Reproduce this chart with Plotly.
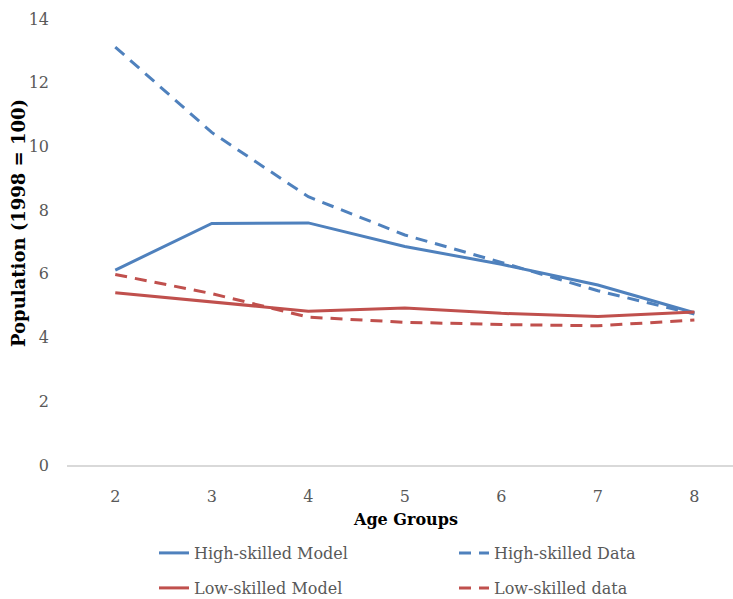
import plotly.graph_objects as go

age_groups = ["2", "3", "4", "5", "6", "7", "8"]
high_model = [6.12, 7.58, 7.60, 6.86, 6.30, 5.65, 4.78]
high_data = [13.12, 10.44, 8.42, 7.22, 6.36, 5.47, 4.74]
low_model = [5.41, 5.12, 4.83, 4.93, 4.76, 4.66, 4.80]
low_data = [5.98, 5.38, 4.64, 4.48, 4.41, 4.37, 4.55]
y_ticks = [0, 2, 4, 6, 8, 10, 12, 14]

BLUE = "#4F81BD"
RED = "#C0504D"
FONT = "DejaVu Serif"
GREY = "#595959"
DASH = "12px,8px"

fig = go.Figure()
fig.add_trace(go.Scatter(x=age_groups, y=high_model, mode="lines", name="High-skilled Model",
                         line=dict(color=BLUE, width=3), legend="legend", showlegend=True))
fig.add_trace(go.Scatter(x=age_groups, y=high_data, mode="lines", name="High-skilled Data",
                         line=dict(color=BLUE, width=3, dash=DASH), legend="legend2", showlegend=True))
fig.add_trace(go.Scatter(x=age_groups, y=low_model, mode="lines", name="Low-skilled Model",
                         line=dict(color=RED, width=3), legend="legend3", showlegend=True))
fig.add_trace(go.Scatter(x=age_groups, y=low_data, mode="lines", name="Low-skilled data",
                         line=dict(color=RED, width=3, dash=DASH), legend="legend4", showlegend=True))

W, H = 733, 599
L, R, T, B = 67, 0, 19, 134
pw, ph = W - L - R, H - T - B

def px_x(p):
    return (p - L) / pw

def px_y(p):
    return (H - B - p) / ph

legend_common = dict(orientation="h",
                     font=dict(family=FONT, size=16, color=GREY),
                     bgcolor="rgba(0,0,0,0)", xanchor="left", yanchor="middle")

fig.update_layout(
    width=W, height=H,
    showlegend=True,
    margin=dict(l=L, r=R, t=T, b=B, autoexpand=False),
    plot_bgcolor="white", paper_bgcolor="white",
    font=dict(family=FONT, size=16, color=GREY),
    xaxis=dict(type="category", range=[-0.5, 6.4], showgrid=False, showline=True,
               linecolor="#D9D9D9", linewidth=2, ticks="", zeroline=False, automargin=False,
               tickfont=dict(family=FONT, size=16, color=GREY), ticklabelstandoff=16),
    yaxis=dict(range=[0, 14], tickvals=y_ticks, showgrid=False, showline=False, zeroline=False,
               automargin=False,
               ticks="", tickfont=dict(family=FONT, size=16, color=GREY), ticklabelstandoff=17),
    legend=dict(x=px_x(154), y=px_y(553), **legend_common),
    legend2=dict(x=px_x(454), y=px_y(553), **legend_common),
    legend3=dict(x=px_x(154), y=px_y(588), **legend_common),
    legend4=dict(x=px_x(454), y=px_y(588), **legend_common),
    annotations=[
        dict(text="<b>Population (1998 = 100)</b>", textangle=-90, xref="paper", yref="paper",
             x=px_x(18), y=px_y(223), xanchor="center", yanchor="middle", showarrow=False,
             font=dict(family=FONT, size=18, color="black")),
        dict(text="<b>Age Groups</b>", xref="paper", yref="paper",
             x=px_x(405), y=px_y(519), xanchor="center", yanchor="middle", showarrow=False,
             font=dict(family=FONT, size=16, color="black")),
    ],
)

fig.write_html("out.html", config={"displayModeBar": False},
               post_script="document.body.style.margin='0px';document.body.style.overflow='hidden';")
